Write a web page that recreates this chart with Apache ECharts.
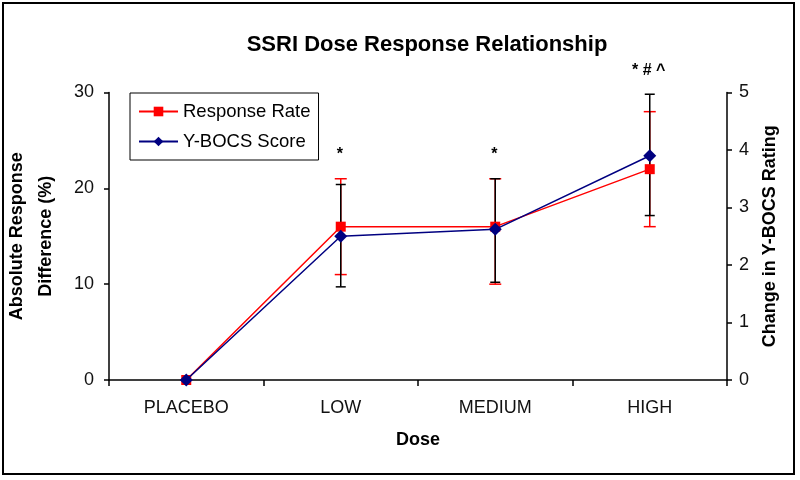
<!DOCTYPE html>
<html>
<head>
<meta charset="utf-8">
<script src="https://cdn.jsdelivr.net/npm/echarts@6/dist/echarts.min.js"></script>
<style>html,body{margin:0;padding:0;background:#fff}#c{width:800px;height:480px}</style>
</head>
<body>
<div id="c"></div>
<script>
const categories = ['PLACEBO', 'LOW', 'MEDIUM', 'HIGH'];
const responseRate = [0, 16, 16, 22];
const responseLow = [null, 11, 10, 16];
const responseHigh = [null, 21, 21, 28];
const ybocsScore = [0, 2.5, 2.62, 3.9];
const ybocsLow = [null, 1.62, 1.7, 2.86];
const ybocsHigh = [null, 3.4, 3.5, 4.97];
const annotations = ['', '*', '*', '* # ^'];
const leftTicks = [0, 10, 20, 30];
const rightTicks = [0, 1, 2, 3, 4, 5];

const LEFT_MAX = leftTicks[leftTicks.length - 1];
const RIGHT_MAX = rightTicks[rightTicks.length - 1];
const FONT = 'Liberation Sans, Arial, sans-serif';

const chart = echarts.init(document.getElementById('c'), null, {renderer: 'canvas'});

function errorBar(color, capHalf, lows, highs) {
  return function (params, api) {
    const i = params.dataIndex;
    if (lows[i] == null) return null;
    const top = api.coord([i, highs[i]]);
    const bot = api.coord([i, lows[i]]);
    const st = {stroke: color, lineWidth: 1.5};
    return {
      type: 'group',
      children: [
        {type: 'line', shape: {x1: top[0], y1: top[1], x2: bot[0], y2: bot[1]}, style: st},
        {type: 'line', shape: {x1: top[0] - capHalf, y1: top[1], x2: top[0] + capHalf, y2: top[1]}, style: st},
        {type: 'line', shape: {x1: bot[0] - capHalf, y1: bot[1], x2: bot[0] + capHalf, y2: bot[1]}, style: st}
      ]
    };
  };
}

const option = {
  backgroundColor: '#fff',
  animation: false,
  title: {
    text: 'SSRI Dose Response Relationship',
    left: 422, top: 29, textAlign: 'center',
    textStyle: {fontFamily: FONT, fontWeight: 'bold', fontSize: 22, color: '#000'}
  },
  legend: {
    orient: 'vertical', left: 130, top: 93,
    padding: [9, 8, 9, 8],
    borderColor: '#000', borderWidth: 1,
    itemWidth: 39, itemHeight: 12, itemGap: 11,
    textStyle: {fontFamily: FONT, fontSize: 18.5, color: '#000'},
    data: ['Response Rate', 'Y-BOCS Score']
  },
  grid: {left: 109, right: 73, top: 92.5, bottom: 100, containLabel: false, outerBoundsMode: 'none'},
  xAxis: {
    type: 'category', data: categories, boundaryGap: true,
    name: 'Dose', nameLocation: 'middle', nameGap: 51,
    nameTextStyle: {fontFamily: FONT, fontWeight: 'bold', fontSize: 18, color: '#000'},
    axisLine: {lineStyle: {color: '#000', width: 1.5}},
    axisTick: {show: true, length: 6, lineStyle: {color: '#000', width: 1.5}},
    axisLabel: {fontFamily: FONT, fontSize: 18, color: '#111', margin: 19}
  },
  yAxis: [
    {
      type: 'value', min: 0, max: LEFT_MAX, interval: 10,
      name: 'Absolute Response\nDifference (%)', nameLocation: 'middle', nameGap: 48,
      nameTextStyle: {fontFamily: FONT, fontWeight: 'bold', fontSize: 18, color: '#000', lineHeight: 29},
      axisLine: {show: true, lineStyle: {color: '#000', width: 1.5}},
      axisTick: {show: true, length: 5, lineStyle: {color: '#000', width: 1.5}},
      axisLabel: {fontFamily: FONT, fontSize: 18, color: '#111', margin: 15},
      splitLine: {show: false}
    },
    {
      type: 'value', min: 0, max: RIGHT_MAX, interval: 1,
      name: 'Change in Y-BOCS Rating', nameLocation: 'middle', nameGap: 34, nameRotate: 90,
      nameTextStyle: {fontFamily: FONT, fontWeight: 'bold', fontSize: 18, color: '#000'},
      axisLine: {show: true, lineStyle: {color: '#000', width: 1.5}},
      axisTick: {show: true, length: 5, lineStyle: {color: '#000', width: 1.5}},
      axisLabel: {fontFamily: FONT, fontSize: 18, color: '#111', margin: 12},
      splitLine: {show: false}
    }
  ],
  series: [
    {
      type: 'custom', name: 'rrErr', yAxisIndex: 0, z: 1, silent: true,
      renderItem: errorBar('#ff0000', 6, responseLow, responseHigh),
      data: responseRate.map((v, i) => [i, v])
    },
    {
      type: 'custom', name: 'ybErr', yAxisIndex: 1, z: 2, silent: true,
      renderItem: errorBar('#000000', 5, ybocsLow, ybocsHigh),
      data: ybocsScore.map((v, i) => [i, v])
    },
    {
      type: 'line', name: 'Response Rate', yAxisIndex: 0, z: 3,
      data: responseRate,
      symbol: 'rect', symbolSize: 10, showAllSymbol: true,
      lineStyle: {color: '#ff0000', width: 1.5},
      itemStyle: {color: '#ff0000'}
    },
    {
      type: 'line', name: 'Y-BOCS Score', yAxisIndex: 1, z: 4,
      data: ybocsScore,
      symbol: 'diamond', symbolSize: 13, showAllSymbol: true,
      lineStyle: {color: '#000080', width: 1.5},
      itemStyle: {color: '#000080'}
    },
    {
      type: 'custom', name: 'notes', yAxisIndex: 0, z: 5, silent: true,
      renderItem: function (params, api) {
        const i = params.dataIndex;
        if (!annotations[i]) return null;
        const cs = params.coordSys;
        const redTop = api.coord([i, responseHigh[i]]);
        const blackTopY = cs.y + cs.height * (1 - ybocsHigh[i] / RIGHT_MAX);
        const topY = Math.min(redTop[1], blackTopY);
        return {
          type: 'text',
          style: {
            x: redTop[0] - 1, y: topY - 24,
            text: annotations[i], textAlign: 'center', textVerticalAlign: 'middle',
            font: 'bold 16px ' + FONT, fill: '#000'
          }
        };
      },
      data: annotations.map((a, i) => [i, 0])
    }
  ],
  graphic: [
    {type: 'rect', shape: {x: 3, y: 3, width: 791, height: 471},
     style: {fill: 'none', stroke: '#000', lineWidth: 2}, silent: true}
  ]
};
chart.setOption(option);
</script>
</body>
</html>
